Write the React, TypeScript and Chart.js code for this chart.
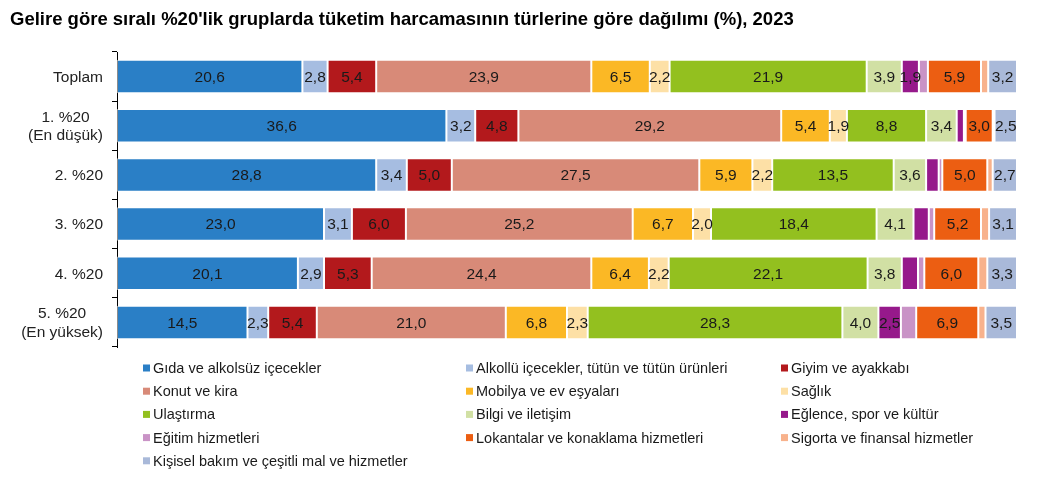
import React, { useEffect, useRef } from "react";
import { Chart, registerables } from "chart.js";

Chart.register(...registerables);

const title =
  "Gelire göre sıralı %20'lik gruplarda tüketim harcamasının türlerine göre dağılımı (%), 2023";

const categories: string[][] = [
  ["Toplam"],
  ["1. %20", "(En düşük)"],
  ["2. %20"],
  ["3. %20"],
  ["4. %20"],
  ["5. %20", "(En yüksek)"],
];

const seriesNames = [
  "Gıda ve alkolsüz içecekler",
  "Alkollü içecekler, tütün ve tütün ürünleri",
  "Giyim ve ayakkabı",
  "Konut ve kira",
  "Mobilya ve ev eşyaları",
  "Sağlık",
  "Ulaştırma",
  "Bilgi ve iletişim",
  "Eğlence, spor ve kültür",
  "Eğitim hizmetleri",
  "Lokantalar ve konaklama hizmetleri",
  "Sigorta ve finansal hizmetler",
  "Kişisel bakım ve çeşitli mal ve hizmetler",
];

const gida = [20.6, 36.6, 28.8, 23.0, 20.1, 14.5];
const alkollu = [2.8, 3.2, 3.4, 3.1, 2.9, 2.3];
const giyim = [5.4, 4.8, 5.0, 6.0, 5.3, 5.4];
const konut = [23.9, 29.2, 27.5, 25.2, 24.4, 21.0];
const mobilya = [6.5, 5.4, 5.9, 6.7, 6.4, 6.8];
const saglik = [2.2, 1.9, 2.2, 2.0, 2.2, 2.3];
const ulastirma = [21.9, 8.8, 13.5, 18.4, 22.1, 28.3];
const bilgi = [3.9, 3.4, 3.6, 4.1, 3.8, 4.0];
const eglence = [1.9, 0.8, 1.4, 1.7, 1.8, 2.5];
const egitim = [1.0, 0.2, 0.4, 0.6, 0.7, 1.7];
const lokanta = [5.9, 3.0, 5.0, 5.2, 6.0, 6.9];
const sigorta = [0.8, 0.2, 0.6, 0.9, 1.0, 0.8];
const kisisel = [3.2, 2.5, 2.7, 3.1, 3.3, 3.5];

const seriesValues = [
  gida, alkollu, giyim, konut, mobilya, saglik, ulastirma,
  bilgi, eglence, egitim, lokanta, sigorta, kisisel,
];

const colors = [
  "#2a7fc6", "#a6bde1", "#b3191c", "#d88a78", "#fbb825", "#fde0a6",
  "#93c01f", "#d1e0a4", "#96198b", "#c993c6", "#ec5e12", "#f8b28c", "#a9b9d9",
];

const FONT = "'Liberation Sans', Arial, sans-serif";

const labelPlugin = {
  id: "customDraw",
  afterDatasetsDraw(chart: any) {
    const ctx = chart.ctx;
    ctx.save();
    ctx.font = `15.5px ${FONT}`;
    ctx.fillStyle = "#1a1a1a";
    ctx.textAlign = "center";
    ctx.textBaseline = "middle";
    chart.data.datasets.forEach((ds: any, di: number) => {
      const meta = chart.getDatasetMeta(di);
      meta.data.forEach((bar: any, i: number) => {
        const v = ds.data[i];
        if (v < 1.9) return;
        const cx = (bar.x + bar.base) / 2;
        ctx.fillText(v.toFixed(1).replace(".", ","), cx, bar.y + 1);
      });
    });
    ctx.restore();
  },
  afterDraw(chart: any) {
    const ctx = chart.ctx;
    ctx.save();
    ctx.font = `bold 18.5px ${FONT}`;
    ctx.fillStyle = "#000";
    ctx.textAlign = "left";
    ctx.textBaseline = "middle";
    ctx.fillText(title, 10, 20);

    const yScale = chart.scales.y;
    ctx.font = `15.5px ${FONT}`;
    ctx.fillStyle = "#222";
    ctx.textAlign = "center";
    const rightEdge = yScale.right - 14;
    categories.forEach((lines, i) => {
      const yc = yScale.getPixelForValue(i);
      const w = Math.max(...lines.map((l) => ctx.measureText(l).width));
      const cx = rightEdge - w / 2;
      const lh = 18.5;
      const y0 = yc - ((lines.length - 1) * lh) / 2;
      lines.forEach((l, k) => ctx.fillText(l, cx, y0 + k * lh + 1));
    });

    const colX = [143, 466, 781];
    const rowY0 = 368;
    const rowH = 23.2;
    ctx.font = `14.5px ${FONT}`;
    ctx.textAlign = "left";
    seriesNames.forEach((name, i) => {
      const c = i % 3;
      const r = Math.floor(i / 3);
      const x = colX[c];
      const y = rowY0 + r * rowH;
      ctx.fillStyle = colors[i];
      ctx.fillRect(x, y - 3.5, 7, 7);
      ctx.fillStyle = "#1a1a1a";
      ctx.fillText(name, x + 10, y + 1);
    });
    ctx.restore();
  },
};

export default function App() {
  const ref = useRef<HTMLCanvasElement>(null);
  useEffect(() => {
    if (!ref.current) return;
    const chart = new Chart(ref.current, {
      type: "bar",
      data: {
        labels: categories.map((c) => c.join(" ")),
        datasets: seriesNames.map((name, i) => ({
          label: name,
          data: seriesValues[i],
          backgroundColor: colors[i],
          borderColor: "rgba(255,255,255,0.55)",
          borderWidth: 1,
          borderSkipped: false,
          categoryPercentage: 0.68,
          barPercentage: 1,
        })),
      },
      options: {
        indexAxis: "y",
        animation: false,
        responsive: false,
        maintainAspectRatio: false,
        layout: { padding: { left: 0, right: 21, top: 52, bottom: 143 } },
        plugins: {
          legend: { display: false },
          title: { display: false },
          tooltip: { enabled: false },
        },
        scales: {
          x: {
            stacked: true,
            min: 0,
            max: 100,
            display: false,
          },
          y: {
            stacked: true,
            afterFit: (scale: any) => {
              scale.width = 117;
            },
            border: { display: true, color: "#000", width: 1 },
            grid: {
              display: true,
              offset: true,
              drawOnChartArea: false,
              drawTicks: true,
              tickLength: 5,
              color: "#000",
            },
            ticks: { display: false },
          },
        },
      },
      plugins: [labelPlugin],
    });
    return () => chart.destroy();
  }, []);
  return (
    <div style={{ position: "fixed", left: 0, top: 0, width: 1038, height: 490, background: "#fff" }}>
      <canvas ref={ref} width={1038} height={490} style={{ width: 1038, height: 490 }} />
    </div>
  );
}
